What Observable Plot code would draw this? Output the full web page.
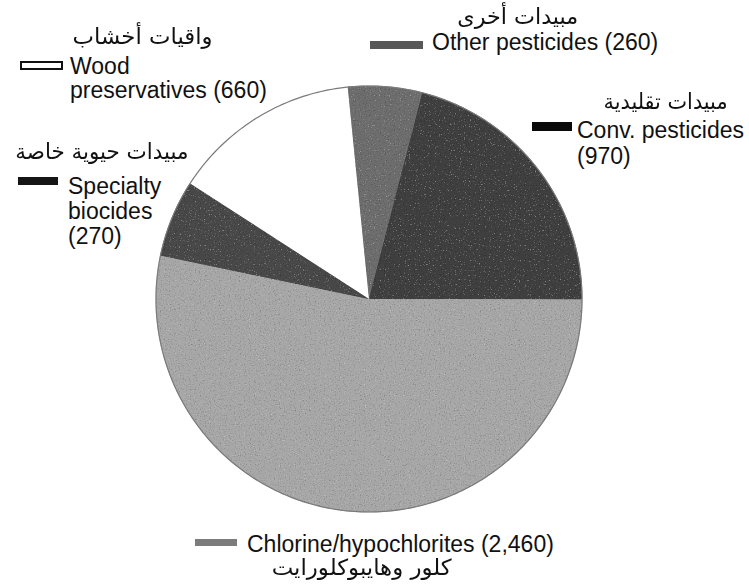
<!DOCTYPE html>
<html>
<head>
<meta charset="utf-8">
<script src="https://cdn.jsdelivr.net/npm/d3@7"></script>
<script src="https://cdn.jsdelivr.net/npm/@observablehq/plot@0.6"></script>
<style>
  html, body { margin: 0; padding: 0; background: #fff; }
  #wrap { position: relative; width: 749px; height: 587px; overflow: hidden; }
  #wrap svg { position: absolute; left: 0; top: 0; }
  .t { position: absolute; white-space: nowrap; font-family: "Liberation Sans", Arial, sans-serif; font-size: 23px; line-height: 18px; height: 18px; color: #111; }
  .ar { position: absolute; white-space: nowrap; font-family: "DejaVu Sans", sans-serif; font-size: 22px; line-height: 16px; height: 16px; color: #111; direction: rtl; transform-origin: 50% 50%; }
  .sw { position: absolute; box-sizing: border-box; }
</style>
</head>
<body>
<div id="wrap"></div>
<script>
// ---- data ----
const categories = ["Other pesticides", "Conv. pesticides", "Chlorine/hypochlorites", "Specialty biocides", "Wood preservatives"];
const values = [260, 970, 2460, 270, 660];
const valueLabels = ["260", "970", "2,460", "270", "660"];
const arabicLabels = ["مبيدات أخرى", "مبيدات تقليدية", "كلور وهايبوكلورايت", "مبيدات حيوية خاصة", "واقيات أخشاب"];
const sliceColors = ["#6e6e6e", "#3f3f3f", "#a8a8a8", "#4a4a4a", "#ffffff"];
const swatchColors = ["#585858", "#0a0a0a", "#7c7c7c", "#151515", "#ffffff"];

// ---- layout ----
const W = 749, H = 587;
const cx = 368.5, cy = 298.5, R = 213;
const start = -0.1;

const pie = d3.pie().sort(null).startAngle(start).endAngle(start + 2 * Math.PI)(values);
const pts = [];
pie.forEach((a, i) => {
  const cat = categories[i];
  pts.push({cat, x: 0, y: 0});
  const n = Math.max(2, Math.ceil((a.endAngle - a.startAngle) / 0.01));
  for (let k = 0; k <= n; k++) {
    const t = a.startAngle + (a.endAngle - a.startAngle) * k / n;
    pts.push({cat, x: Math.sin(t), y: Math.cos(t)});
  }
  pts.push({cat, x: 0, y: 0});
});
const textured = pts.filter(d => d.cat !== "Wood preservatives");
const rim = d3.range(0, 361).map(d => ({x: Math.sin(d * Math.PI / 180), y: Math.cos(d * Math.PI / 180)}));

const chart = Plot.plot({
  width: W, height: H,
  margin: 0,
  x: {domain: [-cx / R, (W - cx) / R], axis: null},
  y: {domain: [(cy - H) / R, cy / R], axis: null},
  color: {domain: categories, range: sliceColors},
  marks: [
    Plot.line(pts, {x: "x", y: "y", z: "cat", fill: "cat", stroke: "cat", strokeWidth: 0.6, curve: "linear"}),
    Plot.line(textured, {x: "x", y: "y", z: "cat", fill: "cat", stroke: "none", curve: "linear"}),
    Plot.line(rim, {x: "x", y: "y", stroke: "#7a7a7a", strokeWidth: 1.2})
  ]
});

// grain texture (halftone look) applied to the shaded slices
const ns = "http://www.w3.org/2000/svg";
const defs = document.createElementNS(ns, "defs");
defs.innerHTML = `
<filter id="grain" x="0" y="0" width="100%" height="100%" filterUnits="userSpaceOnUse">
  <feTurbulence type="fractalNoise" baseFrequency="0.8" numOctaves="2" seed="4" result="n"/>
  <feColorMatrix in="n" type="matrix" values="0 0 0 0 0  0 0 0 0 0  0 0 0 0 0  1.3 0 0 0 -0.7" result="dark"/>
  <feColorMatrix in="n" type="matrix" values="0 0 0 0 1  0 0 0 0 1  0 0 0 0 1  -1.1 0 0 0 0.38" result="light"/>
  <feMerge result="specks"><feMergeNode in="dark"/><feMergeNode in="light"/></feMerge>
  <feComposite in="specks" in2="SourceGraphic" operator="in" result="clip"/>
  <feMerge><feMergeNode in="SourceGraphic"/><feMergeNode in="clip"/></feMerge>
</filter>`;
chart.insertBefore(defs, chart.firstChild);
const lineGroups = chart.querySelectorAll('g[aria-label="line"]');
if (lineGroups[1]) lineGroups[1].setAttribute("filter", "url(#grain)");

const wrap = document.getElementById("wrap");
wrap.appendChild(chart);

// ---- legend labels ----
// baseline offset inside a line box: (L - (asc+desc)*fs)/2 + asc*fs
const T_OFF = (18 - (0.905 + 0.212) * 23) / 2 + 0.905 * 23;
const A_OFF = (16 - (0.928 + 0.236) * 22) / 2 + 0.928 * 22;
function txt(s, x, base) {
  const d = document.createElement("div");
  d.className = "t"; d.textContent = s;
  d.style.left = x + "px"; d.style.top = (base - T_OFF) + "px";
  wrap.appendChild(d);
}
function ar(s, left, right, base) {
  const d = document.createElement("div");
  d.className = "ar"; d.textContent = s;
  d.style.top = (base - A_OFF) + "px";
  wrap.appendChild(d);
  const w = d.getBoundingClientRect().width;
  const target = right - left;
  const k = Math.max(0.8, Math.min(1.35, target / w));
  d.style.left = ((left + right) / 2 - w / 2) + "px";
  d.style.transform = `scaleX(${k})`;
}
function sw(i, x, y, w, h) {
  const d = document.createElement("div");
  d.className = "sw";
  d.style.left = x + "px"; d.style.top = y + "px";
  d.style.width = w + "px"; d.style.height = h + "px";
  d.style.background = swatchColors[i];
  if (i === 4) d.style.border = "2px solid #111";
  wrap.appendChild(d);
}

// Wood preservatives
ar(arabicLabels[4], 73, 213, 45);
sw(4, 20, 61, 43, 9);
txt("Wood", 70, 74);
txt("preservatives (" + valueLabels[4] + ")", 70, 98);

// Other pesticides
ar(arabicLabels[0], 457, 578, 25);
sw(0, 370, 41, 53, 8);
txt(categories[0] + " (" + valueLabels[0] + ")", 432, 50);

// Conv. pesticides
ar(arabicLabels[1], 604, 728, 110);
sw(1, 532, 122, 40, 9);
txt(categories[1], 577, 138);
txt("(" + valueLabels[1] + ")", 577, 164);

// Specialty biocides
ar(arabicLabels[3], 15, 188, 160);
sw(3, 18, 177, 40, 8);
txt("Specialty", 68, 194);
txt("biocides", 68, 219);
txt("(" + valueLabels[3] + ")", 68, 244);

// Chlorine/hypochlorites
sw(2, 195, 539, 42, 7);
txt(categories[2] + " (" + valueLabels[2] + ")", 247, 552);
ar(arabicLabels[2], 272, 452, 576);
</script>
</body>
</html>
